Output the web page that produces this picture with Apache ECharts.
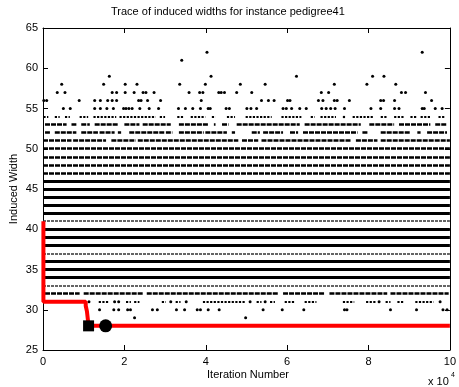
<!DOCTYPE html>
<html>
<head>
<meta charset="utf-8">
<script src="https://cdn.jsdelivr.net/npm/echarts@6/dist/echarts.min.js"></script>
<style>
  html, body { margin: 0; padding: 0; background: #fff; }
  #chart { width: 459px; height: 387px; }
</style>
</head>
<body>
<div id="chart"></div>
<script>
// x values are in units of 10^4 iterations
const xTicks = [0, 2, 4, 6, 8, 10]
const yTicks = [25, 30, 35, 40, 45, 50, 55, 60, 65]

// rows that are filled across the whole run
const solidRows = [34, 35, 36, 38, 39, 40, 42, 43, 44, 45, 46]
const thinRows = [33, 37, 41]
const denseRows = [47, 48, 49, 50]

// rows with gaps: [xStart, xEnd] stretches of dots
const runs32 = [[0.05, 0.9], [1.0, 2.45], [2.55, 5.78], [5.9, 6.92], [7.04, 8.46], [8.54, 9.97]]
const runs51 = [[0, 0.7], [0.74, 1.55], [1.68, 2.28], [2.33, 4.8], [4.89, 5.29], [5.37, 7.57], [7.69, 8.22], [8.3, 10]]
const runs52 = [[0.05, 0.17], [0.29, 0.82], [0.94, 1.35], [1.39, 1.76], [1.84, 1.92], [2.12, 2.98], [3.02, 3.18],
  [3.34, 3.95], [3.99, 4.52], [4.64, 4.72], [5.13, 5.33], [5.41, 5.9], [6.07, 6.27], [6.39, 7.73], [7.85, 7.98],
  [8.3, 9.03], [9.2, 9.28], [9.44, 9.93]]
const runs53 = [[0.05, 0.58], [0.7, 0.82], [0.94, 1.15], [1.27, 1.84], [2.0, 2.37], [2.45, 3.14], [3.34, 4.07],
  [4.2, 4.24], [4.4, 4.56], [4.76, 6.31], [6.43, 7.81], [8.02, 8.63], [8.75, 9.52], [9.64, 9.93]]
const runs54 = [[0.01, 0.13], [0.29, 0.41], [0.54, 0.66], [0.9, 1.11], [1.24, 1.8], [1.88, 2.77], [2.87, 3.0],
  [3.3, 3.46], [3.63, 3.99], [4.15, 4.24], [4.52, 4.72], [4.98, 5.62], [5.86, 6.35], [6.58, 6.68], [6.82, 7.2],
  [7.37, 7.45], [7.61, 8.14], [8.3, 8.46], [8.63, 8.87], [9.03, 9.2], [9.28, 9.52], [9.72, 9.89]]
const runs31 = [[1.37, 1.63], [2.04, 2.16], [2.24, 2.37], [2.92, 3.02], [3.26, 3.38], [3.93, 4.97], [5.25, 5.37],
  [5.58, 5.7], [5.94, 6.19], [6.43, 6.72], [7.37, 7.65], [7.94, 8.18], [8.42, 8.54], [8.71, 8.87], [9.15, 9.6]]

// single dots, x positions per row
const points29 = [2.25, 4.98]
const points30 = [1.39, 1.74, 1.86, 2.08, 2.15, 2.69, 2.81, 3.28, 3.48, 3.79, 3.87, 4.06, 4.33, 5.41, 5.88,
  6.41, 7.41, 7.47, 8.54, 9.18, 9.83, 9.93]
const points31 = [1.13, 1.76, 1.86, 3.14, 3.52, 5.09, 5.46, 8.26, 9.76]
const points55 = [0.5, 0.67, 1.27, 1.41, 1.57, 1.73, 1.98, 2.04, 2.11, 2.19, 2.38, 2.61, 2.84, 3.33, 3.5, 3.68,
  3.87, 4.06, 4.11, 4.5, 4.58, 5.01, 5.11, 5.25, 5.9, 5.98, 6.11, 6.31, 6.47, 6.85, 6.96, 7.07, 7.18, 7.41,
  8.06, 8.3, 8.64, 8.75, 9.32, 9.37, 9.64, 9.81]
const points56 = [0.02, 0.09, 0.89, 1.27, 1.41, 1.59, 1.7, 1.81, 2.35, 2.41, 2.57, 2.89, 3.89, 5.37, 5.54, 5.68,
  6.01, 6.07, 6.77, 6.88, 7.16, 7.23, 7.53, 8.3, 8.37, 8.64, 9.55]
const points57 = [0.35, 0.54, 1.7, 1.81, 2.02, 2.24, 2.46, 2.53, 2.73, 3.59, 3.85, 3.93, 4.32, 4.38, 4.46, 4.76,
  5.13, 6.84, 7.02, 8.81, 8.91, 9.4]
const points58 = [0.46, 1.49, 2.02, 2.31, 3.36, 3.99, 4.85, 5.46, 7.16, 7.96, 8.67]
const points59 = [1.63, 4.13, 6.23, 8.1, 8.38]
const points61 = [3.41]
const points62 = [4.03, 9.32]

// best width found so far (red trace)
const traceX = [0.01, 0.01, 1.05, 1.05, 1.08, 1.08, 1.12, 1.12, 10]
const traceY = [41, 31, 31, 30.5, 30.5, 29.8, 29.8, 28, 28]
const squarePoint = [1.12, 28]
const circlePoint = [1.54, 28]

const chart = echarts.init(document.getElementById('chart'))

const fullRun = [[0, 10]]
const toLines = (runs, y) => runs.map(r => ({ coords: [[r[0], y], [r[1], y]] }))
const rowLines = (rows) => rows.flatMap(y => toLines(fullRun, y))
const rowPoints = (xs, y) => xs.map(x => [x, y])

const denseRunLines = [
  ...rowLines(denseRows),
  ...toLines(runs32, 32), ...toLines(runs51, 51), ...toLines(runs52, 52), ...toLines(runs53, 53)
]
const sparseRunLines = [...toLines(runs31, 31), ...toLines(runs54, 54)]
const dots = [
  ...rowPoints(points29, 29), ...rowPoints(points30, 30), ...rowPoints(points31, 31),
  ...rowPoints(points55, 55), ...rowPoints(points56, 56), ...rowPoints(points57, 57),
  ...rowPoints(points58, 58), ...rowPoints(points59, 59), ...rowPoints(points61, 61), ...rowPoints(points62, 62)
]

const font = 'Liberation Sans, Arial, sans-serif'
const axisBase = {
  type: 'value',
  axisLine: { show: true, onZero: false, lineStyle: { color: '#000', width: 1 } },
  axisTick: { show: true, inside: true, length: 5, lineStyle: { color: '#000' } },
  splitLine: { show: false }
}

const option = {
  animation: false,
  backgroundColor: '#fff',
  grid: { left: 43, right: 5, top: 28, bottom: 37 },
  xAxis: [
    { ...axisBase, position: 'bottom', min: 0, max: 10, interval: 2,
      axisLabel: { color: '#000', fontSize: 11, fontFamily: font, margin: 6, showMaxLabel: true } },
    { ...axisBase, position: 'top', min: 0, max: 10, interval: 2, axisLabel: { show: false } }
  ],
  yAxis: [
    { ...axisBase, position: 'left', min: 25, max: 65, interval: 5,
      axisLabel: { color: '#000', fontSize: 11, fontFamily: font, margin: 5 } },
    { ...axisBase, position: 'right', min: 25, max: 65, interval: 5, axisLabel: { show: false } }
  ],
  series: [
    {
      type: 'lines', coordinateSystem: 'cartesian2d', silent: true,
      data: rowLines(solidRows),
      lineStyle: { color: '#000', width: 3.2, opacity: 1 }
    },
    {
      type: 'lines', coordinateSystem: 'cartesian2d', silent: true,
      data: rowLines(thinRows),
      lineStyle: { color: '#333', width: 1.6, type: [3, 1], opacity: 1 }
    },
    {
      type: 'lines', coordinateSystem: 'cartesian2d', silent: true,
      data: denseRunLines,
      lineStyle: { color: '#000', width: 2.5, type: [5, 1], opacity: 1 }
    },
    {
      type: 'lines', coordinateSystem: 'cartesian2d', silent: true,
      data: sparseRunLines,
      lineStyle: { color: '#000', width: 2.2, type: [2.2, 1.4], opacity: 1 }
    },
    {
      type: 'scatter', silent: true,
      data: dots,
      symbol: 'circle', symbolSize: 3,
      itemStyle: { color: '#000', opacity: 1 }
    },
    {
      type: 'line', silent: true,
      data: traceX.map((x, i) => [x, traceY[i]]),
      showSymbol: false, symbol: 'none',
      lineStyle: { color: '#ff0000', width: 4, opacity: 1 },
      z: 5
    },
    {
      type: 'scatter', silent: true,
      data: [squarePoint], symbol: 'rect', symbolSize: 11,
      itemStyle: { color: '#000', opacity: 1 }, z: 6
    },
    {
      type: 'scatter', silent: true,
      data: [circlePoint], symbol: 'circle', symbolSize: 13,
      itemStyle: { color: '#000', opacity: 1 }, z: 6
    }
  ],
  graphic: [
    { type: 'text', left: 248 - 137, top: 6,
      style: { text: 'Trace of induced widths for instance pedigree41', fontSize: 11, fontFamily: font, fill: '#000' } },
    { type: 'text', x: 248, y: 369,
      style: { text: 'Iteration Number', fontSize: 11, fontFamily: font, fill: '#000', align: 'center' } },
    { type: 'text', x: 8, y: 189, rotation: Math.PI / 2,
      style: { text: 'Induced Width', fontSize: 11, fontFamily: font, fill: '#000', align: 'center', verticalAlign: 'top' } },
    { type: 'text', x: 428, y: 376,
      style: { text: 'x 10', fontSize: 11, fontFamily: font, fill: '#000' } },
    { type: 'text', x: 451, y: 372,
      style: { text: '4', fontSize: 7, fontFamily: font, fill: '#000' } }
  ]
}

chart.setOption(option)
</script>
</body>
</html>
